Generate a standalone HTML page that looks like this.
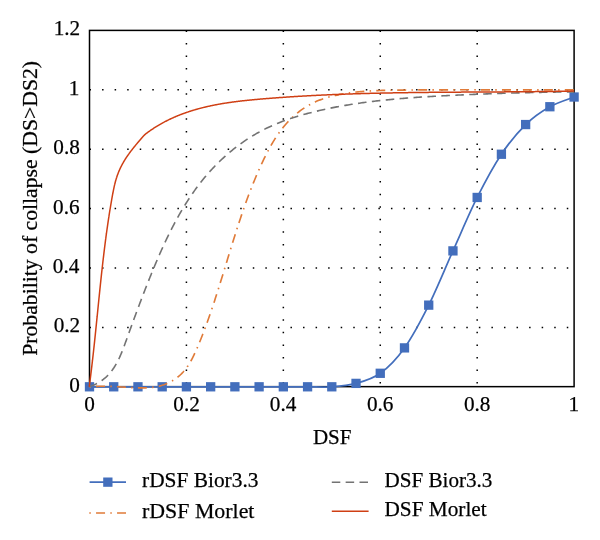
<!DOCTYPE html>
<html><head><meta charset="utf-8"><title>Chart</title>
<style>html,body{margin:0;padding:0;background:#fff;width:600px;height:540px;overflow:hidden}</style></head>
<body>
<svg width="600" height="540" viewBox="0 0 600 540" style="position:absolute;left:0;top:0;will-change:transform">
<rect width="600" height="540" fill="#fff"/>
<path d="M89.50 327.40 H574.10" stroke="#000" stroke-width="1.5" stroke-dasharray="1.5 11.06" fill="none"/>
<path d="M89.50 268.00 H574.10" stroke="#000" stroke-width="1.5" stroke-dasharray="1.5 11.06" fill="none"/>
<path d="M89.50 208.60 H574.10" stroke="#000" stroke-width="1.5" stroke-dasharray="1.5 11.06" fill="none"/>
<path d="M89.50 149.20 H574.10" stroke="#000" stroke-width="1.5" stroke-dasharray="1.5 11.06" fill="none"/>
<path d="M89.50 89.80 H574.10" stroke="#000" stroke-width="1.5" stroke-dasharray="1.5 11.06" fill="none"/>
<path d="M186.42 30.40 V386.80" stroke="#000" stroke-width="1.5" stroke-dasharray="1.5 11.06" fill="none"/>
<path d="M283.34 30.40 V386.80" stroke="#000" stroke-width="1.5" stroke-dasharray="1.5 11.06" fill="none"/>
<path d="M380.26 30.40 V386.80" stroke="#000" stroke-width="1.5" stroke-dasharray="1.5 11.06" fill="none"/>
<path d="M477.18 30.40 V386.80" stroke="#000" stroke-width="1.5" stroke-dasharray="1.5 11.06" fill="none"/>
<rect x="89.50" y="30.40" width="484.60" height="356.25" fill="none" stroke="#000" stroke-width="1.5"/>
<path d="M89.50 386.80 C93.54 386.80 105.65 386.80 113.73 386.80 C121.81 386.80 129.88 386.80 137.96 386.80 C146.04 386.80 154.11 386.80 162.19 386.80 C170.27 386.80 178.34 386.80 186.42 386.80 C194.50 386.80 202.57 386.80 210.65 386.80 C218.73 386.80 226.80 386.80 234.88 386.80 C242.96 386.80 251.03 386.80 259.11 386.80 C267.19 386.80 275.26 386.80 283.34 386.80 C291.42 386.80 299.49 386.80 307.57 386.80 C315.65 386.80 323.72 387.37 331.80 386.80 C339.88 386.23 347.95 385.64 356.03 383.38 C364.11 381.13 372.18 379.20 380.26 373.29 C388.34 367.37 396.41 359.25 404.49 347.89 C412.57 336.53 420.64 321.29 428.72 305.12 C436.80 288.96 444.87 268.84 452.95 250.89 C461.03 232.95 469.10 213.57 477.18 197.46 C485.26 181.36 493.33 166.40 501.41 154.25 C509.49 142.10 517.56 132.47 525.64 124.55 C533.72 116.63 541.79 111.32 549.87 106.73 C557.95 102.14 570.06 98.64 574.10 97.02" fill="none" stroke="#436EBC" stroke-width="1.7"/>
<rect x="84.85" y="382.15" width="9.3" height="9.3" fill="#436EBC"/>
<rect x="109.08" y="382.15" width="9.3" height="9.3" fill="#436EBC"/>
<rect x="133.31" y="382.15" width="9.3" height="9.3" fill="#436EBC"/>
<rect x="157.54" y="382.15" width="9.3" height="9.3" fill="#436EBC"/>
<rect x="181.77" y="382.15" width="9.3" height="9.3" fill="#436EBC"/>
<rect x="206.00" y="382.15" width="9.3" height="9.3" fill="#436EBC"/>
<rect x="230.23" y="382.15" width="9.3" height="9.3" fill="#436EBC"/>
<rect x="254.46" y="382.15" width="9.3" height="9.3" fill="#436EBC"/>
<rect x="278.69" y="382.15" width="9.3" height="9.3" fill="#436EBC"/>
<rect x="302.92" y="382.15" width="9.3" height="9.3" fill="#436EBC"/>
<rect x="327.15" y="382.15" width="9.3" height="9.3" fill="#436EBC"/>
<rect x="351.38" y="378.73" width="9.3" height="9.3" fill="#436EBC"/>
<rect x="375.61" y="368.64" width="9.3" height="9.3" fill="#436EBC"/>
<rect x="399.84" y="343.24" width="9.3" height="9.3" fill="#436EBC"/>
<rect x="424.07" y="300.48" width="9.3" height="9.3" fill="#436EBC"/>
<rect x="448.30" y="246.24" width="9.3" height="9.3" fill="#436EBC"/>
<rect x="472.53" y="192.81" width="9.3" height="9.3" fill="#436EBC"/>
<rect x="496.76" y="149.60" width="9.3" height="9.3" fill="#436EBC"/>
<rect x="520.99" y="119.90" width="9.3" height="9.3" fill="#436EBC"/>
<rect x="545.22" y="102.08" width="9.3" height="9.3" fill="#436EBC"/>
<rect x="569.45" y="92.37" width="9.3" height="9.3" fill="#436EBC"/>
<path d="M89.39 387.02 L90.69 386.86 L91.98 386.73 L93.28 386.61 L94.59 386.51 L95.89 386.43 L97.20 386.36 L98.51 386.30 L99.82 386.27 L101.13 386.24 L102.45 386.23 L103.77 386.23 L105.09 386.24 L106.41 386.26 L107.74 386.29 L109.06 386.33 L110.39 386.38 L111.73 386.43 L113.06 386.50 L114.40 386.56 L115.74 386.64 L117.08 386.71 L118.43 386.79 L119.78 386.88 L121.13 386.96 L122.48 387.05 L123.84 387.13 L125.20 387.22 L126.56 387.31 L127.92 387.39 L129.29 387.47 L130.66 387.55 L132.03 387.62 L133.40 387.69 L134.78 387.75 L136.15 387.81 L137.53 387.85 L138.90 387.88 L140.27 387.90 L141.64 387.91 L143.01 387.90 L144.37 387.87 L145.73 387.83 L147.09 387.77 L148.44 387.69 L149.78 387.59 L151.12 387.46 L152.45 387.31 L153.77 387.13 L155.08 386.93 L156.38 386.70 L157.68 386.44 L158.96 386.15 L160.23 385.83 L161.49 385.48 L162.74 385.09 L163.98 384.67 L165.20 384.22 L166.40 383.74 L167.59 383.23 L168.77 382.69 L169.93 382.12 L171.07 381.51 L172.19 380.88 L173.30 380.21 L174.39 379.52 L175.45 378.80 L176.50 378.05 L177.52 377.26 L178.53 376.45 L179.51 375.61 L180.46 374.75 L181.40 373.85 L182.31 372.93 L183.19 371.98 L184.05 371.00 L184.88 369.99 L185.69 368.96 L186.48 367.91 L187.24 366.83 L187.99 365.73 L188.71 364.62 L189.41 363.48 L190.10 362.33 L190.77 361.17 L191.42 359.99 L192.06 358.79 L192.68 357.59 L193.29 356.38 L193.89 355.15 L194.47 353.92 L195.05 352.69 L195.61 351.45 L196.17 350.21 L196.72 348.96 L197.26 347.72 L197.80 346.47 L198.33 345.23 L198.85 343.98 L199.37 342.74 L199.88 341.50 L200.39 340.25 L200.89 339.01 L201.39 337.77 L201.88 336.52 L202.37 335.28 L202.85 334.04 L203.33 332.79 L203.81 331.55 L204.28 330.30 L204.74 329.06 L205.21 327.81 L205.67 326.56 L206.13 325.31 L206.58 324.06 L207.04 322.81 L207.49 321.56 L207.93 320.31 L208.38 319.06 L208.82 317.80 L209.26 316.55 L209.70 315.29 L210.13 314.03 L210.57 312.77 L211.00 311.51 L211.42 310.25 L211.85 308.99 L212.28 307.73 L212.70 306.47 L213.12 305.20 L213.54 303.94 L213.96 302.67 L214.37 301.41 L214.79 300.14 L215.20 298.87 L215.61 297.60 L216.02 296.33 L216.43 295.06 L216.83 293.79 L217.24 292.52 L217.64 291.25 L218.05 289.98 L218.45 288.71 L218.85 287.44 L219.25 286.16 L219.65 284.89 L220.04 283.61 L220.44 282.34 L220.84 281.07 L221.23 279.79 L221.63 278.51 L222.02 277.24 L222.41 275.96 L222.80 274.69 L223.20 273.41 L223.59 272.13 L223.98 270.86 L224.37 269.58 L224.76 268.30 L225.15 267.03 L225.54 265.75 L225.93 264.47 L226.32 263.19 L226.71 261.92 L227.10 260.64 L227.49 259.36 L227.88 258.08 L228.27 256.81 L228.66 255.53 L229.05 254.25 L229.44 252.98 L229.83 251.70 L230.22 250.42 L230.61 249.15 L231.01 247.87 L231.40 246.60 L231.79 245.32 L232.19 244.05 L232.58 242.77 L232.98 241.50 L233.38 240.22 L233.78 238.95 L234.17 237.68 L234.57 236.40 L234.98 235.13 L235.38 233.86 L235.78 232.59 L236.19 231.32 L236.59 230.05 L237.00 228.78 L237.41 227.51 L237.82 226.24 L238.23 224.98 L238.65 223.71 L239.06 222.45 L239.48 221.18 L239.90 219.92 L240.32 218.65 L240.74 217.39 L241.17 216.13 L241.59 214.87 L242.02 213.61 L242.45 212.35 L242.88 211.09 L243.32 209.83 L243.76 208.58 L244.19 207.32 L244.64 206.07 L245.08 204.82 L245.53 203.56 L245.98 202.31 L246.43 201.06 L246.88 199.81 L247.34 198.56 L247.80 197.32 L248.27 196.07 L248.73 194.82 L249.20 193.58 L249.67 192.34 L250.15 191.09 L250.63 189.85 L251.11 188.61 L251.60 187.37 L252.09 186.13 L252.58 184.90 L253.08 183.66 L253.58 182.43 L254.08 181.19 L254.59 179.96 L255.10 178.73 L255.61 177.50 L256.13 176.27 L256.65 175.04 L257.18 173.81 L257.71 172.58 L258.25 171.36 L258.79 170.14 L259.33 168.91 L259.88 167.69 L260.43 166.47 L260.99 165.25 L261.55 164.03 L262.12 162.82 L262.69 161.60 L263.27 160.39 L263.85 159.18 L264.43 157.97 L265.03 156.76 L265.63 155.56 L266.23 154.36 L266.84 153.16 L267.46 151.97 L268.09 150.78 L268.72 149.59 L269.36 148.41 L270.01 147.24 L270.67 146.07 L271.33 144.91 L272.00 143.75 L272.68 142.60 L273.37 141.45 L274.07 140.31 L274.78 139.18 L275.50 138.06 L276.23 136.94 L276.96 135.83 L277.71 134.73 L278.47 133.64 L279.24 132.55 L280.02 131.48 L280.81 130.41 L281.61 129.36 L282.42 128.31 L283.25 127.27 L284.08 126.25 L284.93 125.24 L285.79 124.23 L286.67 123.24 L287.56 122.26 L288.46 121.29 L289.37 120.34 L290.30 119.39 L291.24 118.46 L292.20 117.54 L293.17 116.64 L294.15 115.75 L295.15 114.87 L296.16 114.01 L297.19 113.16 L298.23 112.33 L299.28 111.51 L300.34 110.71 L301.42 109.93 L302.51 109.16 L303.61 108.41 L304.73 107.68 L305.85 106.96 L306.99 106.26 L308.13 105.58 L309.29 104.92 L310.46 104.28 L311.64 103.65 L312.83 103.05 L314.02 102.47 L315.23 101.91 L316.45 101.36 L317.67 100.84 L318.91 100.34 L320.15 99.86 L321.40 99.40 L322.66 98.95 L323.92 98.52 L325.19 98.11 L326.47 97.72 L327.75 97.34 L329.04 96.97 L330.33 96.63 L331.62 96.29 L332.92 95.97 L334.23 95.67 L335.54 95.37 L336.85 95.09 L338.16 94.82 L339.47 94.56 L340.79 94.32 L342.11 94.08 L343.42 93.85 L344.74 93.63 L346.06 93.42 L347.38 93.22 L348.70 93.03 L350.03 92.84 L351.35 92.67 L352.67 92.50 L354.00 92.34 L355.32 92.19 L356.65 92.05 L357.97 91.91 L359.30 91.78 L360.62 91.66 L361.95 91.54 L363.28 91.43 L364.61 91.32 L365.94 91.23 L367.27 91.13 L368.60 91.05 L369.93 90.97 L371.26 90.89 L372.59 90.82 L373.92 90.75 L375.25 90.69 L376.59 90.64 L377.92 90.58 L379.25 90.53 L380.58 90.49 L381.92 90.44 L383.25 90.41 L384.59 90.37 L385.92 90.34 L387.25 90.31 L388.59 90.28 L389.92 90.25 L391.26 90.23 L392.59 90.21 L393.93 90.19 L395.26 90.17 L396.60 90.15 L397.93 90.14 L399.27 90.12 L400.60 90.10 L401.94 90.09 L403.27 90.08 L404.61 90.06 L405.94 90.05 L407.28 90.03 L408.61 90.02 L409.95 90.01 L411.28 90.00 L412.62 89.99 L413.95 89.98 L415.28 89.97 L416.62 89.95 L417.95 89.95 L419.29 89.94 L420.62 89.93 L421.96 89.92 L423.29 89.91 L424.63 89.90 L425.96 89.89 L427.30 89.89 L428.63 89.88 L429.97 89.87 L431.30 89.87 L432.64 89.86 L433.97 89.85 L435.30 89.85 L436.64 89.84 L437.97 89.84 L439.31 89.83 L440.64 89.83 L441.98 89.82 L443.31 89.82 L444.65 89.82 L445.98 89.81 L447.31 89.81 L448.65 89.81 L449.98 89.81 L451.32 89.80 L452.65 89.80 L453.99 89.80 L455.32 89.80 L456.66 89.80 L457.99 89.79 L459.32 89.79 L460.66 89.79 L461.99 89.79 L463.33 89.79 L464.66 89.79 L466.00 89.79 L467.33 89.79 L468.67 89.79 L470.00 89.79 L471.33 89.79 L472.67 89.79 L474.00 89.79 L475.34 89.79 L476.67 89.79 L478.01 89.79 L479.34 89.80 L480.67 89.80 L482.01 89.80 L483.34 89.80 L484.68 89.80 L486.01 89.80 L487.35 89.80 L488.68 89.81 L490.01 89.81 L491.35 89.81 L492.68 89.81 L494.02 89.81 L495.35 89.82 L496.69 89.82 L498.02 89.82 L499.36 89.82 L500.69 89.82 L502.02 89.83 L503.36 89.83 L504.69 89.83 L506.03 89.83 L507.36 89.83 L508.70 89.84 L510.03 89.84 L511.37 89.84 L512.70 89.84 L514.03 89.84 L515.37 89.85 L516.70 89.85 L518.04 89.85 L519.37 89.85 L520.71 89.85 L522.04 89.85 L523.38 89.86 L524.71 89.86 L526.04 89.86 L527.38 89.86 L528.71 89.86 L530.05 89.86 L531.38 89.86 L532.72 89.86 L534.05 89.86 L535.39 89.87 L536.72 89.87 L538.06 89.87 L539.39 89.87 L540.73 89.87 L542.06 89.87 L543.40 89.87 L544.73 89.86 L546.06 89.86 L547.40 89.86 L548.73 89.86 L550.07 89.86 L551.40 89.86 L552.74 89.86 L554.07 89.86 L555.41 89.85 L556.74 89.85 L558.08 89.85 L559.41 89.85 L560.75 89.84 L562.08 89.84 L563.42 89.83 L564.75 89.83 L566.09 89.83 L567.42 89.82 L568.76 89.82 L570.10 89.81 L571.43 89.81 L572.77 89.80 L574.10 89.80" fill="none" stroke="#E07B39" stroke-width="1.65" stroke-dasharray="1.5 5.2 9 5.25"/>
<path d="M89.09 386.66 L90.46 386.22 L91.79 385.76 L93.08 385.26 L94.34 384.73 L95.57 384.17 L96.76 383.59 L97.92 382.97 L99.04 382.33 L100.13 381.66 L101.20 380.96 L102.23 380.23 L103.23 379.49 L104.20 378.71 L105.14 377.92 L106.06 377.10 L106.95 376.25 L107.82 375.39 L108.66 374.50 L109.47 373.60 L110.26 372.67 L111.03 371.72 L111.77 370.76 L112.50 369.78 L113.20 368.78 L113.89 367.76 L114.55 366.73 L115.20 365.68 L115.83 364.62 L116.44 363.55 L117.04 362.46 L117.62 361.36 L118.19 360.25 L118.74 359.12 L119.28 357.99 L119.81 356.84 L120.32 355.69 L120.83 354.53 L121.32 353.36 L121.81 352.18 L122.28 351.00 L122.75 349.81 L123.22 348.62 L123.67 347.42 L124.12 346.21 L124.57 345.01 L125.01 343.80 L125.45 342.59 L125.89 341.38 L126.32 340.17 L126.76 338.96 L127.19 337.75 L127.63 336.54 L128.06 335.33 L128.49 334.12 L128.93 332.91 L129.36 331.71 L129.80 330.50 L130.23 329.30 L130.67 328.10 L131.11 326.90 L131.54 325.70 L131.98 324.50 L132.41 323.30 L132.85 322.10 L133.29 320.90 L133.73 319.71 L134.17 318.51 L134.61 317.32 L135.05 316.12 L135.49 314.93 L135.93 313.74 L136.37 312.54 L136.81 311.35 L137.26 310.16 L137.70 308.97 L138.14 307.78 L138.59 306.60 L139.04 305.41 L139.48 304.22 L139.93 303.03 L140.38 301.85 L140.83 300.66 L141.28 299.48 L141.73 298.29 L142.19 297.11 L142.64 295.93 L143.09 294.74 L143.55 293.56 L144.01 292.38 L144.47 291.20 L144.93 290.02 L145.39 288.83 L145.85 287.65 L146.31 286.47 L146.78 285.29 L147.24 284.11 L147.71 282.93 L148.18 281.76 L148.65 280.58 L149.12 279.40 L149.60 278.22 L150.07 277.04 L150.55 275.86 L151.02 274.69 L151.50 273.51 L151.99 272.33 L152.47 271.15 L152.95 269.98 L153.44 268.80 L153.93 267.62 L154.42 266.45 L154.91 265.27 L155.40 264.09 L155.90 262.92 L156.40 261.75 L156.90 260.57 L157.40 259.40 L157.90 258.23 L158.41 257.05 L158.92 255.88 L159.43 254.71 L159.94 253.54 L160.46 252.37 L160.98 251.21 L161.50 250.04 L162.03 248.88 L162.55 247.71 L163.08 246.55 L163.61 245.39 L164.15 244.23 L164.69 243.07 L165.23 241.91 L165.77 240.76 L166.32 239.60 L166.87 238.45 L167.42 237.30 L167.98 236.15 L168.54 235.00 L169.10 233.85 L169.67 232.71 L170.24 231.57 L170.81 230.43 L171.39 229.29 L171.97 228.15 L172.55 227.02 L173.14 225.89 L173.73 224.76 L174.32 223.63 L174.92 222.51 L175.53 221.38 L176.13 220.26 L176.74 219.15 L177.36 218.03 L177.98 216.92 L178.60 215.81 L179.22 214.70 L179.86 213.60 L180.49 212.50 L181.13 211.40 L181.77 210.30 L182.42 209.21 L183.08 208.12 L183.73 207.03 L184.40 205.95 L185.06 204.87 L185.73 203.79 L186.41 202.72 L187.09 201.65 L187.78 200.58 L188.47 199.52 L189.16 198.46 L189.86 197.40 L190.57 196.35 L191.28 195.30 L191.99 194.25 L192.72 193.21 L193.44 192.17 L194.17 191.14 L194.91 190.11 L195.65 189.08 L196.40 188.06 L197.15 187.04 L197.91 186.02 L198.68 185.01 L199.45 184.01 L200.22 183.01 L201.00 182.01 L201.79 181.02 L202.58 180.03 L203.38 179.04 L204.19 178.07 L205.00 177.09 L205.82 176.12 L206.64 175.16 L207.47 174.19 L208.30 173.24 L209.15 172.29 L209.99 171.34 L210.85 170.40 L211.71 169.46 L212.58 168.53 L213.45 167.61 L214.33 166.69 L215.21 165.77 L216.11 164.86 L217.00 163.96 L217.91 163.06 L218.82 162.17 L219.73 161.28 L220.65 160.40 L221.58 159.52 L222.51 158.65 L223.45 157.79 L224.40 156.93 L225.35 156.08 L226.30 155.23 L227.26 154.39 L228.23 153.56 L229.20 152.73 L230.18 151.91 L231.17 151.10 L232.15 150.29 L233.15 149.49 L234.15 148.69 L235.15 147.90 L236.16 147.12 L237.18 146.35 L238.20 145.58 L239.22 144.82 L240.25 144.07 L241.29 143.33 L242.33 142.59 L243.37 141.86 L244.42 141.13 L245.48 140.42 L246.54 139.71 L247.60 139.01 L248.67 138.31 L249.74 137.63 L250.82 136.95 L251.91 136.28 L252.99 135.62 L254.08 134.96 L255.18 134.32 L256.28 133.68 L257.39 133.05 L258.50 132.43 L259.61 131.82 L260.73 131.21 L261.85 130.62 L262.98 130.03 L264.11 129.45 L265.24 128.88 L266.38 128.32 L267.53 127.77 L268.67 127.22 L269.82 126.69 L270.98 126.16 L272.14 125.64 L273.30 125.13 L274.46 124.62 L275.63 124.13 L276.80 123.64 L277.98 123.16 L279.16 122.69 L280.34 122.22 L281.52 121.77 L282.71 121.31 L283.90 120.87 L285.09 120.43 L286.29 120.00 L287.49 119.58 L288.69 119.16 L289.89 118.75 L291.10 118.35 L292.31 117.95 L293.52 117.56 L294.73 117.18 L295.94 116.80 L297.16 116.42 L298.38 116.05 L299.60 115.69 L300.82 115.34 L302.05 114.98 L303.27 114.64 L304.50 114.30 L305.73 113.96 L306.96 113.63 L308.19 113.30 L309.43 112.98 L310.66 112.66 L311.89 112.35 L313.13 112.04 L314.37 111.74 L315.61 111.44 L316.85 111.14 L318.08 110.85 L319.33 110.56 L320.57 110.28 L321.81 110.00 L323.05 109.72 L324.29 109.45 L325.54 109.18 L326.78 108.91 L328.03 108.65 L329.27 108.39 L330.52 108.14 L331.77 107.89 L333.01 107.64 L334.26 107.39 L335.51 107.15 L336.76 106.91 L338.01 106.68 L339.26 106.45 L340.51 106.22 L341.76 106.00 L343.02 105.78 L344.27 105.56 L345.52 105.34 L346.78 105.13 L348.03 104.92 L349.29 104.72 L350.54 104.52 L351.80 104.32 L353.05 104.12 L354.31 103.93 L355.57 103.74 L356.83 103.55 L358.08 103.37 L359.34 103.18 L360.60 103.00 L361.86 102.83 L363.12 102.65 L364.38 102.48 L365.64 102.32 L366.91 102.15 L368.17 101.99 L369.43 101.83 L370.69 101.67 L371.96 101.51 L373.22 101.36 L374.48 101.21 L375.75 101.06 L377.01 100.92 L378.28 100.77 L379.54 100.63 L380.81 100.49 L382.07 100.36 L383.34 100.22 L384.61 100.09 L385.87 99.96 L387.14 99.83 L388.41 99.71 L389.68 99.59 L390.94 99.46 L392.21 99.34 L393.48 99.23 L394.75 99.11 L396.02 99.00 L397.29 98.88 L398.56 98.77 L399.83 98.67 L401.10 98.56 L402.37 98.45 L403.64 98.35 L404.91 98.25 L406.18 98.15 L407.45 98.05 L408.72 97.95 L409.99 97.86 L411.26 97.77 L412.53 97.67 L413.80 97.58 L415.08 97.49 L416.35 97.40 L417.62 97.32 L418.89 97.23 L420.16 97.15 L421.43 97.07 L422.71 96.98 L423.98 96.90 L425.25 96.82 L426.52 96.75 L427.80 96.67 L429.07 96.59 L430.34 96.52 L431.61 96.44 L432.89 96.37 L434.16 96.30 L435.43 96.23 L436.70 96.16 L437.98 96.09 L439.25 96.02 L440.52 95.95 L441.79 95.88 L443.07 95.81 L444.34 95.75 L445.61 95.68 L446.88 95.62 L448.15 95.55 L449.43 95.49 L450.70 95.43 L451.97 95.36 L453.24 95.30 L454.51 95.24 L455.79 95.18 L457.06 95.12 L458.33 95.06 L459.60 95.00 L460.87 94.94 L462.14 94.89 L463.42 94.83 L464.69 94.77 L465.96 94.71 L467.23 94.66 L468.50 94.60 L469.77 94.55 L471.04 94.50 L472.31 94.44 L473.59 94.39 L474.86 94.34 L476.13 94.29 L477.40 94.23 L478.67 94.18 L479.94 94.13 L481.21 94.08 L482.48 94.03 L483.75 93.99 L485.03 93.94 L486.30 93.89 L487.57 93.84 L488.84 93.80 L490.11 93.75 L491.38 93.71 L492.65 93.66 L493.92 93.62 L495.19 93.57 L496.47 93.53 L497.74 93.49 L499.01 93.45 L500.28 93.41 L501.55 93.36 L502.82 93.32 L504.09 93.28 L505.36 93.24 L506.63 93.21 L507.91 93.17 L509.18 93.13 L510.45 93.09 L511.72 93.05 L512.99 93.02 L514.26 92.98 L515.54 92.95 L516.81 92.91 L518.08 92.88 L519.35 92.84 L520.62 92.81 L521.89 92.78 L523.17 92.75 L524.44 92.71 L525.71 92.68 L526.98 92.65 L528.25 92.62 L529.53 92.59 L530.80 92.56 L532.07 92.53 L533.34 92.50 L534.62 92.48 L535.89 92.45 L537.16 92.42 L538.43 92.40 L539.71 92.37 L540.98 92.34 L542.25 92.32 L543.53 92.29 L544.80 92.27 L546.07 92.25 L547.35 92.22 L548.62 92.20 L549.89 92.18 L551.17 92.16 L552.44 92.13 L553.72 92.11 L554.99 92.09 L556.26 92.07 L557.54 92.05 L558.81 92.03 L560.09 92.02 L561.36 92.00 L562.64 91.98 L563.91 91.96 L565.19 91.95 L566.46 91.93 L567.74 91.91 L569.01 91.90 L570.29 91.88 L571.57 91.87 L572.84 91.85 L574.12 91.84" fill="none" stroke="#737373" stroke-width="1.6" stroke-dasharray="8.55 5.4"/>
<path d="M89.22 386.76 L89.28 386.26 L89.35 385.77 L89.42 385.27 L89.48 384.78 L89.55 384.28 L89.62 383.78 L89.68 383.29 L89.75 382.79 L89.81 382.30 L89.88 381.80 L89.94 381.31 L90.00 380.81 L90.07 380.31 L90.13 379.82 L90.19 379.32 L90.26 378.83 L90.32 378.33 L90.38 377.83 L90.45 377.34 L90.51 376.84 L90.57 376.35 L90.64 375.85 L90.70 375.35 L90.76 374.86 L90.82 374.36 L90.88 373.87 L90.94 373.37 L91.01 372.87 L91.07 372.38 L91.13 371.88 L91.19 371.38 L91.25 370.89 L91.31 370.39 L91.37 369.90 L91.43 369.40 L91.49 368.90 L91.55 368.41 L91.61 367.91 L91.67 367.41 L91.73 366.92 L91.79 366.42 L91.85 365.92 L91.90 365.43 L91.96 364.93 L92.02 364.43 L92.08 363.94 L92.14 363.44 L92.20 362.94 L92.25 362.45 L92.31 361.95 L92.37 361.45 L92.43 360.96 L92.48 360.46 L92.54 359.96 L92.60 359.47 L92.65 358.97 L92.71 358.47 L92.77 357.98 L92.82 357.48 L92.88 356.98 L92.94 356.49 L92.99 355.99 L93.05 355.49 L93.10 355.00 L93.16 354.50 L93.22 354.00 L93.27 353.51 L93.33 353.01 L93.38 352.51 L93.44 352.01 L93.49 351.52 L93.55 351.02 L93.60 350.52 L93.66 350.03 L93.71 349.53 L93.76 349.03 L93.82 348.54 L93.87 348.04 L93.93 347.54 L93.98 347.04 L94.03 346.55 L94.09 346.05 L94.14 345.55 L94.19 345.06 L94.25 344.56 L94.30 344.06 L94.35 343.56 L94.41 343.07 L94.46 342.57 L94.51 342.07 L94.57 341.58 L94.62 341.08 L94.67 340.58 L94.72 340.08 L94.78 339.59 L94.83 339.09 L94.88 338.59 L94.93 338.09 L94.99 337.60 L95.04 337.10 L95.09 336.60 L95.14 336.11 L95.19 335.61 L95.25 335.11 L95.30 334.61 L95.35 334.12 L95.40 333.62 L95.45 333.12 L95.50 332.62 L95.55 332.13 L95.61 331.63 L95.66 331.13 L95.71 330.63 L95.76 330.14 L95.81 329.64 L95.86 329.14 L95.91 328.65 L95.96 328.15 L96.01 327.65 L96.07 327.15 L96.12 326.66 L96.17 326.16 L96.22 325.66 L96.27 325.16 L96.32 324.67 L96.37 324.17 L96.42 323.67 L96.47 323.17 L96.52 322.68 L96.57 322.18 L96.62 321.68 L96.67 321.18 L96.72 320.69 L96.77 320.19 L96.82 319.69 L96.87 319.19 L96.92 318.70 L96.97 318.20 L97.02 317.70 L97.07 317.20 L97.13 316.71 L97.18 316.21 L97.23 315.71 L97.28 315.21 L97.33 314.72 L97.38 314.22 L97.43 313.72 L97.48 313.22 L97.53 312.73 L97.58 312.23 L97.63 311.73 L97.68 311.23 L97.73 310.74 L97.78 310.24 L97.83 309.74 L97.88 309.24 L97.93 308.75 L97.98 308.25 L98.03 307.75 L98.08 307.25 L98.13 306.76 L98.18 306.26 L98.23 305.76 L98.28 305.26 L98.33 304.77 L98.38 304.27 L98.43 303.77 L98.48 303.27 L98.53 302.78 L98.58 302.28 L98.63 301.78 L98.68 301.29 L98.73 300.79 L98.78 300.29 L98.83 299.79 L98.88 299.30 L98.93 298.80 L98.98 298.30 L99.03 297.80 L99.08 297.31 L99.14 296.81 L99.19 296.31 L99.24 295.81 L99.29 295.32 L99.34 294.82 L99.39 294.32 L99.44 293.82 L99.49 293.33 L99.54 292.83 L99.59 292.33 L99.64 291.83 L99.70 291.34 L99.75 290.84 L99.80 290.34 L99.85 289.84 L99.90 289.35 L99.95 288.85 L100.00 288.35 L100.06 287.86 L100.11 287.36 L100.16 286.86 L100.21 286.36 L100.26 285.87 L100.32 285.37 L100.37 284.87 L100.42 284.37 L100.47 283.88 L100.52 283.38 L100.58 282.88 L100.63 282.39 L100.68 281.89 L100.73 281.39 L100.79 280.89 L100.84 280.40 L100.89 279.90 L100.95 279.40 L101.00 278.90 L101.05 278.41 L101.11 277.91 L101.16 277.41 L101.21 276.92 L101.27 276.42 L101.32 275.92 L101.37 275.42 L101.43 274.93 L101.48 274.43 L101.54 273.93 L101.59 273.44 L101.64 272.94 L101.70 272.44 L101.75 271.95 L101.81 271.45 L101.86 270.95 L101.92 270.45 L101.97 269.96 L102.03 269.46 L102.08 268.96 L102.14 268.47 L102.19 267.97 L102.25 267.47 L102.31 266.98 L102.36 266.48 L102.42 265.98 L102.47 265.49 L102.53 264.99 L102.59 264.49 L102.64 264.00 L102.70 263.50 L102.76 263.00 L102.81 262.50 L102.87 262.01 L102.93 261.51 L102.98 261.01 L103.04 260.52 L103.10 260.02 L103.16 259.52 L103.22 259.03 L103.27 258.53 L103.33 258.03 L103.39 257.54 L103.45 257.04 L103.51 256.55 L103.57 256.05 L103.63 255.55 L103.69 255.06 L103.74 254.56 L103.80 254.06 L103.86 253.57 L103.92 253.07 L103.98 252.57 L104.04 252.08 L104.10 251.58 L104.17 251.08 L104.23 250.59 L104.29 250.09 L104.35 249.60 L104.41 249.10 L104.47 248.60 L104.53 248.11 L104.59 247.61 L104.66 247.12 L104.72 246.62 L104.78 246.12 L104.84 245.63 L104.91 245.13 L104.97 244.63 L105.03 244.14 L105.10 243.64 L105.16 243.15 L105.22 242.65 L105.29 242.15 L105.35 241.66 L105.42 241.16 L105.48 240.67 L105.55 240.17 L105.61 239.68 L105.68 239.18 L105.74 238.68 L105.81 238.19 L105.87 237.69 L105.94 237.20 L106.00 236.70 L106.07 236.21 L106.14 235.71 L106.20 235.22 L106.27 234.72 L106.34 234.22 L106.41 233.73 L106.47 233.23 L106.54 232.74 L106.61 232.24 L106.68 231.75 L106.75 231.25 L106.82 230.76 L106.89 230.26 L106.96 229.77 L107.02 229.27 L107.09 228.78 L107.16 228.28 L107.24 227.79 L107.31 227.29 L107.38 226.80 L107.45 226.30 L107.52 225.81 L107.59 225.31 L107.66 224.82 L107.73 224.32 L107.81 223.83 L107.88 223.33 L107.95 222.84 L108.03 222.34 L108.10 221.85 L108.17 221.35 L108.25 220.86 L108.32 220.37 L108.40 219.87 L108.47 219.38 L108.54 218.88 L108.62 218.39 L108.70 217.89 L108.77 217.40 L108.85 216.91 L108.92 216.41 L109.00 215.92 L109.08 215.42 L109.15 214.93 L109.23 214.44 L109.31 213.94 L109.39 213.45 L109.47 212.95 L109.54 212.46 L109.62 211.97 L109.70 211.47 L109.78 210.98 L109.86 210.49 L109.94 209.99 L110.02 209.50 L110.10 209.00 L110.18 208.51 L110.26 208.02 L110.35 207.52 L110.43 207.03 L110.51 206.54 L110.59 206.04 L110.67 205.55 L110.76 205.06 L110.84 204.57 L110.92 204.07 L111.01 203.58 L111.09 203.09 L111.18 202.59 L111.26 202.10 L111.35 201.61 L111.43 201.12 L111.52 200.62 L111.60 200.13 L111.69 199.64 L111.78 199.15 L111.86 198.65 L111.95 198.16 L112.04 197.67 L112.13 197.18 L112.22 196.68 L112.31 196.19 L112.40 195.70 L112.49 195.21 L112.58 194.72 L112.67 194.23 L112.76 193.73 L112.85 193.24 L112.94 192.75 L113.04 192.26 L113.13 191.77 L113.23 191.28 L113.32 190.79 L113.42 190.30 L113.52 189.81 L113.62 189.32 L113.72 188.83 L113.83 188.34 L113.93 187.85 L114.04 187.36 L114.14 186.87 L114.25 186.39 L114.36 185.90 L114.47 185.41 L114.59 184.92 L114.71 184.44 L114.82 183.95 L114.94 183.47 L115.07 182.98 L115.19 182.50 L115.32 182.01 L115.45 181.53 L115.58 181.05 L115.71 180.57 L115.85 180.09 L115.99 179.61 L116.13 179.13 L116.27 178.65 L116.42 178.17 L116.57 177.69 L116.73 177.22 L116.88 176.74 L117.04 176.27 L117.20 175.80 L117.37 175.33 L117.54 174.86 L117.71 174.39 L117.88 173.92 L118.06 173.45 L118.24 172.98 L118.42 172.52 L118.61 172.06 L118.80 171.59 L118.99 171.13 L119.19 170.67 L119.39 170.21 L119.59 169.76 L119.79 169.30 L120.00 168.85 L120.21 168.39 L120.42 167.94 L120.64 167.49 L120.86 167.04 L121.08 166.59 L121.31 166.15 L121.53 165.70 L121.77 165.26 L122.00 164.82 L122.23 164.38 L122.47 163.94 L122.71 163.50 L122.96 163.06 L123.21 162.63 L123.45 162.19 L123.71 161.76 L123.96 161.33 L124.22 160.90 L124.48 160.48 L124.74 160.05 L125.00 159.63 L125.27 159.20 L125.54 158.78 L125.81 158.36 L126.08 157.94 L126.35 157.52 L126.63 157.11 L126.91 156.69 L127.19 156.28 L127.47 155.87 L127.76 155.46 L128.04 155.05 L128.33 154.64 L128.62 154.23 L128.91 153.82 L129.21 153.42 L129.50 153.01 L129.80 152.61 L130.09 152.21 L130.39 151.81 L130.69 151.41 L131.00 151.01 L131.30 150.61 L131.60 150.22 L131.91 149.82 L132.22 149.43 L132.52 149.03 L132.83 148.64 L133.14 148.25 L133.46 147.86 L133.77 147.47 L134.08 147.08 L134.40 146.69 L134.71 146.30 L135.03 145.91 L135.35 145.53 L135.66 145.14 L135.98 144.76 L136.30 144.37 L136.62 143.99 L136.94 143.61 L137.27 143.22 L137.59 142.84 L137.91 142.46 L138.24 142.08 L138.56 141.70 L138.89 141.32 L139.21 140.94 L139.54 140.56 L139.86 140.18 L140.19 139.80 L140.51 139.42 L140.83 139.04 L141.15 138.66 L141.48 138.28 L141.80 137.90 L142.12 137.52 L142.44 137.14 L142.77 136.77 L143.10 136.40 L143.43 136.04 L143.77 135.68 L144.12 135.33 L144.48 134.99 L144.84 134.66 L145.21 134.33 L145.59 134.01 L145.98 133.70 L146.37 133.39 L146.76 133.09 L147.16 132.79 L147.57 132.49 L147.97 132.20 L148.38 131.90 L148.78 131.61 L149.19 131.32 L149.60 131.03 L150.01 130.75 L150.42 130.46 L150.83 130.18 L151.24 129.90 L151.66 129.62 L152.07 129.34 L152.49 129.06 L152.90 128.78 L153.32 128.51 L153.74 128.24 L154.16 127.96 L154.58 127.69 L155.00 127.43 L155.42 127.16 L155.85 126.89 L156.27 126.63 L156.70 126.37 L157.13 126.11 L157.55 125.85 L157.98 125.59 L158.41 125.33 L158.84 125.08 L159.27 124.83 L159.70 124.58 L160.14 124.33 L160.57 124.08 L161.01 123.83 L161.44 123.59 L161.88 123.34 L162.32 123.10 L162.75 122.86 L163.19 122.62 L163.63 122.38 L164.08 122.15 L164.52 121.91 L164.96 121.68 L165.40 121.45 L165.85 121.22 L166.29 120.99 L166.74 120.77 L167.18 120.54 L167.63 120.32 L168.08 120.10 L168.53 119.88 L168.98 119.66 L169.43 119.44 L169.88 119.22 L170.33 119.01 L170.78 118.80 L171.24 118.59 L171.69 118.38 L172.14 118.17 L172.60 117.96 L173.06 117.76 L173.51 117.55 L173.97 117.35 L174.43 117.15 L174.89 116.95 L175.34 116.75 L175.80 116.56 L176.26 116.36 L176.73 116.17 L177.19 115.98 L177.65 115.79 L178.11 115.60 L178.58 115.41 L179.04 115.22 L179.50 115.04 L179.97 114.86 L180.44 114.67 L180.90 114.49 L181.37 114.31 L181.84 114.14 L182.30 113.96 L182.77 113.79 L183.24 113.61 L183.71 113.44 L184.18 113.27 L184.65 113.10 L185.12 112.93 L185.59 112.77 L186.07 112.60 L186.54 112.44 L187.01 112.28 L187.48 112.11 L187.96 111.96 L188.43 111.80 L188.91 111.64 L189.38 111.48 L189.86 111.33 L190.33 111.18 L190.81 111.03 L191.29 110.87 L191.76 110.73 L192.24 110.58 L192.72 110.43 L193.20 110.29 L193.68 110.14 L194.16 110.00 L194.64 109.86 L195.12 109.72 L195.60 109.58 L196.08 109.44 L196.56 109.30 L197.04 109.17 L197.52 109.03 L198.00 108.90 L198.48 108.77 L198.97 108.64 L199.45 108.51 L199.93 108.38 L200.42 108.25 L200.90 108.13 L201.38 108.00 L201.87 107.88 L202.35 107.76 L202.84 107.63 L203.32 107.51 L203.81 107.39 L204.29 107.28 L204.78 107.16 L205.27 107.04 L205.75 106.93 L206.24 106.81 L206.73 106.70 L207.22 106.59 L207.70 106.48 L208.19 106.37 L208.68 106.26 L209.17 106.15 L209.66 106.05 L210.14 105.94 L210.63 105.84 L211.12 105.73 L211.61 105.63 L212.10 105.53 L212.59 105.43 L213.08 105.33 L213.57 105.23 L214.06 105.13 L214.55 105.04 L215.04 104.94 L215.53 104.84 L216.02 104.75 L216.52 104.66 L217.01 104.56 L217.50 104.47 L217.99 104.38 L218.48 104.29 L218.97 104.20 L219.47 104.12 L219.96 104.03 L220.45 103.94 L220.94 103.86 L221.44 103.77 L221.93 103.69 L222.42 103.61 L222.92 103.53 L223.41 103.44 L223.90 103.36 L224.40 103.28 L224.89 103.20 L225.38 103.13 L225.88 103.05 L226.37 102.97 L226.87 102.90 L227.36 102.82 L227.85 102.75 L228.35 102.67 L228.84 102.60 L229.34 102.53 L229.83 102.46 L230.33 102.39 L230.82 102.32 L231.32 102.25 L231.81 102.18 L232.31 102.11 L232.80 102.04 L233.30 101.98 L233.80 101.91 L234.29 101.84 L234.79 101.78 L235.28 101.71 L235.78 101.65 L236.27 101.59 L236.77 101.52 L237.27 101.46 L237.76 101.40 L238.26 101.34 L238.76 101.28 L239.25 101.22 L239.75 101.16 L240.25 101.10 L240.74 101.04 L241.24 100.99 L241.74 100.93 L242.23 100.87 L242.73 100.82 L243.23 100.76 L243.72 100.71 L244.22 100.65 L244.72 100.60 L245.21 100.54 L245.71 100.49 L246.21 100.44 L246.71 100.39 L247.20 100.33 L247.70 100.28 L248.20 100.23 L248.70 100.18 L249.19 100.13 L249.69 100.08 L250.19 100.03 L250.69 99.98 L251.18 99.93 L251.68 99.89 L252.18 99.84 L252.68 99.79 L253.17 99.74 L253.67 99.70 L254.17 99.65 L254.67 99.60 L255.17 99.56 L255.66 99.51 L256.16 99.47 L256.66 99.42 L257.16 99.38 L257.66 99.33 L258.15 99.29 L258.65 99.25 L259.15 99.20 L259.65 99.16 L260.15 99.12 L260.64 99.07 L261.14 99.03 L261.64 98.99 L262.14 98.95 L262.64 98.91 L263.13 98.86 L263.63 98.82 L264.13 98.78 L264.63 98.74 L265.13 98.70 L265.63 98.66 L266.12 98.62 L266.62 98.58 L267.12 98.54 L267.62 98.50 L268.12 98.46 L268.62 98.42 L269.12 98.38 L269.61 98.34 L270.11 98.30 L270.61 98.26 L271.11 98.22 L271.61 98.18 L272.11 98.15 L272.60 98.11 L273.10 98.07 L273.60 98.03 L274.10 97.99 L274.60 97.96 L275.10 97.92 L275.60 97.88 L276.09 97.84 L276.59 97.81 L277.09 97.77 L277.59 97.73 L278.09 97.70 L278.59 97.66 L279.09 97.62 L279.59 97.59 L280.08 97.55 L280.58 97.52 L281.08 97.48 L281.58 97.45 L282.08 97.41 L282.58 97.38 L283.08 97.34 L283.58 97.31 L284.07 97.27 L284.57 97.24 L285.07 97.20 L285.57 97.17 L286.07 97.14 L286.57 97.10 L287.07 97.07 L287.57 97.04 L288.07 97.00 L288.56 96.97 L289.06 96.94 L289.56 96.90 L290.06 96.87 L290.56 96.84 L291.06 96.81 L291.56 96.77 L292.06 96.74 L292.56 96.71 L293.05 96.68 L293.55 96.65 L294.05 96.62 L294.55 96.58 L295.05 96.55 L295.55 96.52 L296.05 96.49 L296.55 96.46 L297.05 96.43 L297.55 96.40 L298.05 96.37 L298.54 96.34 L299.04 96.31 L299.54 96.28 L300.04 96.25 L300.54 96.22 L301.04 96.19 L301.54 96.16 L302.04 96.13 L302.54 96.10 L303.04 96.08 L303.54 96.05 L304.03 96.02 L304.53 95.99 L305.03 95.96 L305.53 95.93 L306.03 95.91 L306.53 95.88 L307.03 95.85 L307.53 95.82 L308.03 95.80 L308.53 95.77 L309.03 95.74 L309.53 95.71 L310.03 95.69 L310.52 95.66 L311.02 95.63 L311.52 95.61 L312.02 95.58 L312.52 95.56 L313.02 95.53 L313.52 95.50 L314.02 95.48 L314.52 95.45 L315.02 95.43 L315.52 95.40 L316.02 95.38 L316.52 95.35 L317.02 95.33 L317.52 95.30 L318.02 95.28 L318.51 95.25 L319.01 95.23 L319.51 95.20 L320.01 95.18 L320.51 95.16 L321.01 95.13 L321.51 95.11 L322.01 95.09 L322.51 95.06 L323.01 95.04 L323.51 95.02 L324.01 94.99 L324.51 94.97 L325.01 94.95 L325.51 94.92 L326.01 94.90 L326.51 94.88 L327.01 94.86 L327.50 94.84 L328.00 94.81 L328.50 94.79 L329.00 94.77 L329.50 94.75 L330.00 94.73 L330.50 94.71 L331.00 94.68 L331.50 94.66 L332.00 94.64 L332.50 94.62 L333.00 94.60 L333.50 94.58 L334.00 94.56 L334.50 94.54 L335.00 94.52 L335.50 94.50 L336.00 94.48 L336.50 94.46 L337.00 94.44 L337.50 94.42 L338.00 94.40 L338.50 94.38 L339.00 94.36 L339.49 94.34 L339.99 94.32 L340.49 94.30 L340.99 94.28 L341.49 94.27 L341.99 94.25 L342.49 94.23 L342.99 94.21 L343.49 94.19 L343.99 94.17 L344.49 94.15 L344.99 94.14 L345.49 94.12 L345.99 94.10 L346.49 94.08 L346.99 94.07 L347.49 94.05 L347.99 94.03 L348.49 94.01 L348.99 94.00 L349.49 93.98 L349.99 93.96 L350.49 93.95 L350.99 93.93 L351.49 93.91 L351.99 93.90 L352.49 93.88 L352.99 93.86 L353.49 93.85 L353.99 93.83 L354.49 93.82 L354.99 93.80 L355.48 93.78 L355.98 93.77 L356.48 93.75 L356.98 93.74 L357.48 93.72 L357.98 93.71 L358.48 93.69 L358.98 93.68 L359.48 93.66 L359.98 93.65 L360.48 93.63 L360.98 93.62 L361.48 93.60 L361.98 93.59 L362.48 93.57 L362.98 93.56 L363.48 93.55 L363.98 93.53 L364.48 93.52 L364.98 93.50 L365.48 93.49 L365.98 93.48 L366.48 93.46 L366.98 93.45 L367.48 93.44 L367.98 93.42 L368.48 93.41 L368.98 93.40 L369.48 93.38 L369.98 93.37 L370.48 93.36 L370.98 93.35 L371.48 93.33 L371.98 93.32 L372.48 93.31 L372.98 93.30 L373.48 93.28 L373.98 93.27 L374.48 93.26 L374.98 93.25 L375.48 93.23 L375.98 93.22 L376.48 93.21 L376.98 93.20 L377.48 93.19 L377.98 93.18 L378.48 93.16 L378.98 93.15 L379.48 93.14 L379.98 93.13 L380.48 93.12 L380.98 93.11 L381.48 93.10 L381.98 93.09 L382.48 93.08 L382.98 93.07 L383.48 93.05 L383.98 93.04 L384.48 93.03 L384.97 93.02 L385.47 93.01 L385.97 93.00 L386.47 92.99 L386.97 92.98 L387.47 92.97 L387.97 92.96 L388.47 92.95 L388.97 92.94 L389.47 92.93 L389.97 92.92 L390.47 92.91 L390.97 92.91 L391.47 92.90 L391.97 92.89 L392.47 92.88 L392.97 92.87 L393.47 92.86 L393.97 92.85 L394.47 92.84 L394.97 92.83 L395.47 92.82 L395.97 92.81 L396.47 92.81 L396.97 92.80 L397.47 92.79 L397.97 92.78 L398.47 92.77 L398.97 92.76 L399.47 92.76 L399.97 92.75 L400.47 92.74 L400.97 92.73 L401.47 92.72 L401.97 92.72 L402.47 92.71 L402.97 92.70 L403.47 92.69 L403.97 92.68 L404.47 92.68 L404.97 92.67 L405.47 92.66 L405.97 92.65 L406.47 92.65 L406.97 92.64 L407.47 92.63 L407.97 92.63 L408.47 92.62 L408.97 92.61 L409.47 92.60 L409.97 92.60 L410.47 92.59 L410.97 92.58 L411.47 92.58 L411.97 92.57 L412.47 92.56 L412.97 92.56 L413.47 92.55 L413.97 92.54 L414.47 92.54 L414.97 92.53 L415.47 92.53 L415.97 92.52 L416.47 92.51 L416.97 92.51 L417.47 92.50 L417.97 92.49 L418.47 92.49 L418.97 92.48 L419.47 92.48 L419.97 92.47 L420.47 92.46 L420.97 92.46 L421.47 92.45 L421.97 92.45 L422.47 92.44 L422.97 92.44 L423.47 92.43 L423.97 92.43 L424.47 92.42 L424.97 92.42 L425.47 92.41 L425.97 92.40 L426.47 92.40 L426.97 92.39 L427.47 92.39 L427.97 92.38 L428.47 92.38 L428.97 92.37 L429.47 92.37 L429.97 92.36 L430.47 92.36 L430.97 92.35 L431.47 92.35 L431.97 92.34 L432.47 92.34 L432.97 92.34 L433.47 92.33 L433.97 92.33 L434.47 92.32 L434.97 92.32 L435.47 92.31 L435.97 92.31 L436.47 92.30 L436.97 92.30 L437.47 92.30 L437.97 92.29 L438.47 92.29 L438.97 92.28 L439.47 92.28 L439.97 92.27 L440.47 92.27 L440.97 92.27 L441.47 92.26 L441.97 92.26 L442.47 92.25 L442.97 92.25 L443.47 92.25 L443.97 92.24 L444.47 92.24 L444.97 92.23 L445.47 92.23 L445.97 92.23 L446.47 92.22 L446.97 92.22 L447.47 92.22 L447.97 92.21 L448.47 92.21 L448.97 92.20 L449.47 92.20 L449.97 92.20 L450.47 92.19 L450.97 92.19 L451.47 92.19 L451.97 92.18 L452.47 92.18 L452.97 92.18 L453.47 92.17 L453.97 92.17 L454.47 92.17 L454.97 92.16 L455.47 92.16 L455.97 92.16 L456.47 92.15 L456.97 92.15 L457.47 92.15 L457.97 92.14 L458.47 92.14 L458.97 92.14 L459.47 92.13 L459.97 92.13 L460.47 92.13 L460.97 92.13 L461.47 92.12 L461.97 92.12 L462.47 92.12 L462.97 92.11 L463.47 92.11 L463.97 92.11 L464.47 92.10 L464.97 92.10 L465.47 92.10 L465.97 92.10 L466.47 92.09 L466.97 92.09 L467.47 92.09 L467.97 92.08 L468.47 92.08 L468.97 92.08 L469.47 92.08 L469.97 92.07 L470.47 92.07 L470.97 92.07 L471.47 92.06 L471.97 92.06 L472.47 92.06 L472.97 92.06 L473.47 92.05 L473.97 92.05 L474.47 92.05 L474.97 92.04 L475.47 92.04 L475.97 92.04 L476.47 92.04 L476.97 92.03 L477.47 92.03 L477.97 92.03 L478.47 92.02 L478.97 92.02 L479.47 92.02 L479.97 92.02 L480.47 92.01 L480.97 92.01 L481.47 92.01 L481.97 92.01 L482.47 92.00 L482.97 92.00 L483.47 92.00 L483.97 91.99 L484.47 91.99 L484.97 91.99 L485.47 91.99 L485.97 91.98 L486.47 91.98 L486.97 91.98 L487.47 91.98 L487.97 91.97 L488.47 91.97 L488.97 91.97 L489.47 91.96 L489.97 91.96 L490.47 91.96 L490.97 91.96 L491.47 91.95 L491.97 91.95 L492.47 91.95 L492.97 91.94 L493.47 91.94 L493.97 91.94 L494.47 91.94 L494.97 91.93 L495.47 91.93 L495.97 91.93 L496.47 91.92 L496.97 91.92 L497.47 91.92 L497.97 91.91 L498.47 91.91 L498.97 91.91 L499.47 91.91 L499.97 91.90 L500.47 91.90 L500.97 91.90 L501.47 91.89 L501.97 91.89 L502.47 91.89 L502.97 91.88 L503.47 91.88 L503.97 91.88 L504.47 91.87 L504.97 91.87 L505.47 91.87 L505.97 91.87 L506.47 91.86 L506.97 91.86 L507.47 91.86 L507.97 91.85 L508.47 91.85 L508.97 91.85 L509.47 91.84 L509.97 91.84 L510.47 91.83 L510.97 91.83 L511.47 91.83 L511.97 91.82 L512.47 91.82 L512.97 91.82 L513.47 91.81 L513.97 91.81 L514.47 91.81 L514.97 91.80 L515.47 91.80 L515.97 91.80 L516.47 91.79 L516.97 91.79 L517.47 91.78 L517.97 91.78 L518.47 91.78 L518.97 91.77 L519.47 91.77 L519.97 91.76 L520.47 91.76 L520.97 91.76 L521.47 91.75 L521.97 91.75 L522.47 91.74 L522.97 91.74 L523.47 91.74 L523.97 91.73 L524.47 91.73 L524.97 91.72 L525.47 91.72 L525.97 91.71 L526.47 91.71 L526.97 91.70 L527.47 91.70 L527.97 91.70 L528.47 91.69 L528.97 91.69 L529.47 91.68 L529.97 91.68 L530.47 91.67 L530.97 91.67 L531.47 91.66 L531.97 91.66 L532.47 91.65 L532.97 91.65 L533.47 91.64 L533.97 91.64 L534.47 91.63 L534.97 91.63 L535.47 91.62 L535.97 91.62 L536.47 91.61 L536.97 91.61 L537.47 91.60 L537.97 91.60 L538.47 91.59 L538.97 91.59 L539.47 91.58 L539.97 91.57 L540.47 91.57 L540.97 91.56 L541.47 91.56 L541.97 91.55 L542.47 91.55 L542.97 91.54 L543.47 91.53 L543.97 91.53 L544.47 91.52 L544.97 91.52 L545.47 91.51 L545.97 91.50 L546.47 91.50 L546.97 91.49 L547.47 91.48 L547.97 91.48 L548.47 91.47 L548.97 91.47 L549.47 91.46 L549.97 91.45 L550.47 91.45 L550.97 91.44 L551.47 91.43 L551.97 91.43 L552.47 91.42 L552.97 91.41 L553.47 91.40 L553.97 91.40 L554.47 91.39 L554.97 91.38 L555.47 91.38 L555.97 91.37 L556.47 91.36 L556.97 91.35 L557.47 91.35 L557.97 91.34 L558.47 91.33 L558.97 91.32 L559.47 91.32 L559.97 91.31 L560.47 91.30 L560.96 91.29 L561.46 91.28 L561.96 91.28 L562.46 91.27 L562.96 91.26 L563.46 91.25 L563.96 91.24 L564.46 91.23 L564.96 91.23 L565.46 91.22 L565.96 91.21 L566.46 91.20 L566.96 91.19 L567.46 91.18 L567.96 91.17 L568.46 91.16 L568.96 91.16 L569.46 91.15 L569.95 91.14 L570.43 91.13 L570.89 91.12 L571.34 91.11 L571.76 91.10 L572.14 91.10 L572.49 91.09 L572.80 91.08 L573.07 91.08 L574.13 91.06" fill="none" stroke="#CF3F14" stroke-width="1.5"/>
<path d="M89.6 482.1 H126" stroke="#436EBC" stroke-width="1.7"/>
<rect x="103.2" y="477.5" width="9.3" height="9.3" fill="#436EBC"/>
<path d="M89.3 513 H126" stroke="#E07B39" stroke-width="1.65" stroke-dasharray="1.5 5.25 9 5.25"/>
<path d="M331.8 482.3 H368.6" stroke="#737373" stroke-width="1.6" stroke-dasharray="8.5 5.35"/>
<path d="M331.8 511.3 H368.6" stroke="#CF3F14" stroke-width="1.5"/>
<text x="69.19" y="391.70" textLength="10.62" lengthAdjust="spacingAndGlyphs" font-family="Liberation Serif, serif" font-size="22" fill="#000" stroke="#000" stroke-width="0.25">0</text>
<text x="53.63" y="332.30" textLength="26.54" lengthAdjust="spacingAndGlyphs" font-family="Liberation Serif, serif" font-size="22" fill="#000" stroke="#000" stroke-width="0.25">0.2</text>
<text x="52.79" y="272.90" textLength="26.54" lengthAdjust="spacingAndGlyphs" font-family="Liberation Serif, serif" font-size="22" fill="#000" stroke="#000" stroke-width="0.25">0.4</text>
<text x="53.09" y="213.50" textLength="26.54" lengthAdjust="spacingAndGlyphs" font-family="Liberation Serif, serif" font-size="22" fill="#000" stroke="#000" stroke-width="0.25">0.6</text>
<text x="53.27" y="154.10" textLength="26.54" lengthAdjust="spacingAndGlyphs" font-family="Liberation Serif, serif" font-size="22" fill="#000" stroke="#000" stroke-width="0.25">0.8</text>
<text x="68.66" y="94.70" textLength="10.62" lengthAdjust="spacingAndGlyphs" font-family="Liberation Serif, serif" font-size="22" fill="#000" stroke="#000" stroke-width="0.25">1</text>
<text x="53.63" y="35.30" textLength="26.54" lengthAdjust="spacingAndGlyphs" font-family="Liberation Serif, serif" font-size="22" fill="#000" stroke="#000" stroke-width="0.25">1.2</text>
<text x="84.19" y="410.90" textLength="10.62" lengthAdjust="spacingAndGlyphs" font-family="Liberation Serif, serif" font-size="22" fill="#000" stroke="#000" stroke-width="0.25">0</text>
<text x="173.33" y="410.90" textLength="26.54" lengthAdjust="spacingAndGlyphs" font-family="Liberation Serif, serif" font-size="22" fill="#000" stroke="#000" stroke-width="0.25">0.2</text>
<text x="269.83" y="410.90" textLength="26.54" lengthAdjust="spacingAndGlyphs" font-family="Liberation Serif, serif" font-size="22" fill="#000" stroke="#000" stroke-width="0.25">0.4</text>
<text x="366.90" y="410.90" textLength="26.54" lengthAdjust="spacingAndGlyphs" font-family="Liberation Serif, serif" font-size="22" fill="#000" stroke="#000" stroke-width="0.25">0.6</text>
<text x="463.91" y="410.90" textLength="26.54" lengthAdjust="spacingAndGlyphs" font-family="Liberation Serif, serif" font-size="22" fill="#000" stroke="#000" stroke-width="0.25">0.8</text>
<text x="568.50" y="410.90" textLength="10.62" lengthAdjust="spacingAndGlyphs" font-family="Liberation Serif, serif" font-size="22" fill="#000" stroke="#000" stroke-width="0.25">1</text>
<text x="312.89" y="443.90" textLength="38.62" lengthAdjust="spacingAndGlyphs" font-family="Liberation Serif, serif" font-size="22" fill="#000" stroke="#000" stroke-width="0.25">DSF</text>
<text transform="translate(37.00 355.20) rotate(-90)" x="-0.63" y="0" textLength="294.88" lengthAdjust="spacingAndGlyphs" font-family="Liberation Serif, serif" font-size="22" fill="#000" stroke="#000" stroke-width="0.25">Probability of collapse (DS&gt;DS2)</text>
<text x="142.07" y="487.20" textLength="116.36" lengthAdjust="spacingAndGlyphs" font-family="Liberation Serif, serif" font-size="22" fill="#000" stroke="#000" stroke-width="0.25">rDSF Bior3.3</text>
<text x="142.06" y="518.00" textLength="112.37" lengthAdjust="spacingAndGlyphs" font-family="Liberation Serif, serif" font-size="22" fill="#000" stroke="#000" stroke-width="0.25">rDSF Morlet</text>
<text x="384.49" y="487.20" textLength="107.93" lengthAdjust="spacingAndGlyphs" font-family="Liberation Serif, serif" font-size="22" fill="#000" stroke="#000" stroke-width="0.25">DSF Bior3.3</text>
<text x="384.49" y="516.30" textLength="102.24" lengthAdjust="spacingAndGlyphs" font-family="Liberation Serif, serif" font-size="22" fill="#000" stroke="#000" stroke-width="0.25">DSF Morlet</text>
</svg>
</body></html>
